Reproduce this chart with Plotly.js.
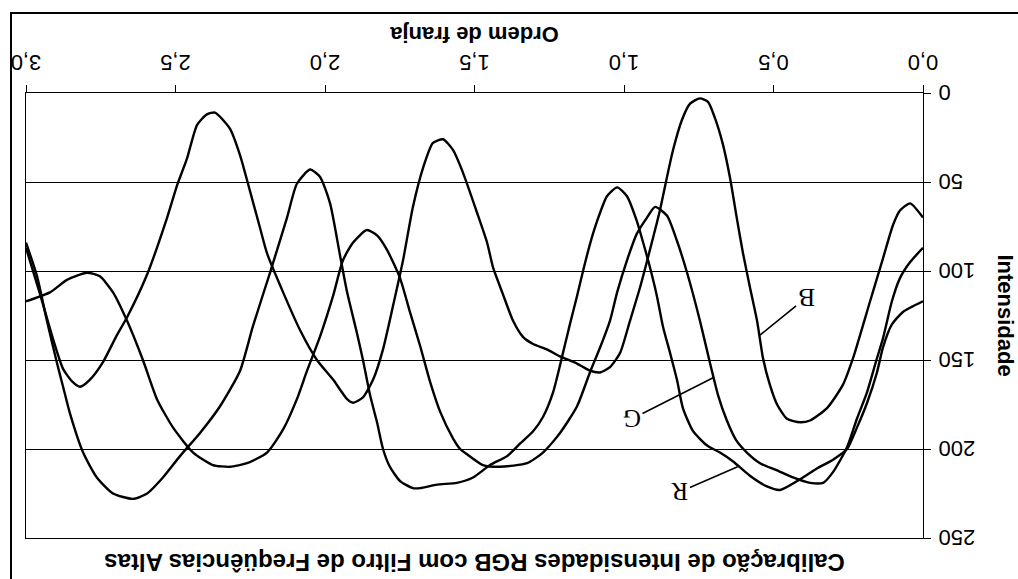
<!DOCTYPE html>
<html>
<head>
<meta charset="utf-8">
<script src="https://cdn.plot.ly/plotly-3.0.1.min.js"></script>
<style>
  html, body { margin: 0; padding: 0; background: #fff; overflow: hidden; }
  /* the printed figure sits upside down on the page */
  #wrap { position: relative; width: 1018px; height: 579px; transform: rotate(180deg); }
  #chart { position: absolute; left: 0; top: 0; width: 1018px; height: 579px; }
  /* outer frame of the chart area: bottom and right edges */
  #frame { position: absolute; left: 0; top: 0; width: 1006px; height: 565px;
           border-right: 2px solid #000; border-bottom: 2px solid #000;
           pointer-events: none; z-index: 5; }
</style>
</head>
<body>
<div id="wrap"><div id="chart"></div><div id="frame"></div></div>
<script>
// Fringe order (x) and intensity (y) for each colour channel
const ordemR = [0, 0.067, 0.104, 0.134, 0.154, 0.187, 0.221, 0.254, 0.301, 0.355, 0.411, 0.478, 0.522, 0.579, 0.635, 0.679, 0.722, 0.769, 0.803, 0.823, 0.846, 0.870, 0.890, 0.913, 0.936, 0.957, 0.990, 1.023, 1.057, 1.090, 1.114, 1.137, 1.157, 1.181, 1.204, 1.237, 1.271, 1.304, 1.348, 1.391, 1.448, 1.505, 1.559, 1.625, 1.682, 1.706, 1.749, 1.783, 1.806, 1.826, 1.849, 1.873, 1.893, 1.926, 1.950, 1.983, 2.017, 2.050, 2.094, 2.127, 2.184, 2.241, 2.284, 2.351, 2.418, 2.485, 2.542, 2.595, 2.642, 2.709, 2.763, 2.809, 2.853, 2.876, 2.896, 2.930, 2.963, 3.0];
const intensR = [117, 123, 130, 143, 157, 174, 188, 200, 206, 211, 217, 223, 221, 215, 207, 202, 198, 190, 177, 161, 146, 131, 114, 98, 84, 72, 58, 53, 58, 72, 85, 100, 114, 130, 146, 168, 182, 190, 197, 204, 209, 216, 219, 220, 222, 222, 218, 210, 200, 185, 170, 150, 135, 112, 91, 62, 47, 43, 51, 70, 101, 131, 156, 176, 191, 204, 216, 225, 228, 225, 216, 202, 180, 165, 152, 128, 103, 84];

const ordemG = [0, 0.043, 0.077, 0.104, 0.134, 0.154, 0.187, 0.221, 0.254, 0.301, 0.334, 0.378, 0.435, 0.488, 0.545, 0.589, 0.625, 0.656, 0.685, 0.712, 0.746, 0.789, 0.823, 0.856, 0.896, 0.923, 0.957, 0.990, 1.023, 1.047, 1.080, 1.114, 1.157, 1.214, 1.271, 1.324, 1.415, 1.472, 1.525, 1.548, 1.572, 1.615, 1.649, 1.682, 1.716, 1.749, 1.793, 1.826, 1.860, 1.906, 1.940, 1.973, 2.017, 2.060, 2.094, 2.140, 2.194, 2.261, 2.318, 2.375, 2.441, 2.508, 2.562, 2.609, 2.662, 2.709, 2.753, 2.796, 2.863, 2.920, 3.0];
const intensG = [87, 95, 104, 117, 138, 149, 168, 183, 199, 213, 219, 219, 216, 212, 208, 202, 195, 184, 170, 152, 128, 101, 83, 69, 64, 70, 79, 94, 112, 128, 143, 157, 176, 191, 202, 208, 210, 209, 203, 200, 194, 179, 162, 142, 123, 104, 88, 80, 77, 84, 94, 114, 137, 156, 172, 189, 202, 208, 210, 209, 202, 188, 172, 150, 128, 112, 103, 101, 105, 112, 117];

const ordemB = [0, 0.043, 0.077, 0.100, 0.134, 0.177, 0.234, 0.268, 0.321, 0.378, 0.411, 0.455, 0.488, 0.512, 0.535, 0.555, 0.579, 0.602, 0.622, 0.645, 0.669, 0.696, 0.719, 0.746, 0.779, 0.806, 0.836, 0.856, 0.880, 0.913, 0.946, 0.980, 1.013, 1.047, 1.080, 1.114, 1.157, 1.214, 1.258, 1.304, 1.338, 1.371, 1.405, 1.438, 1.458, 1.492, 1.538, 1.572, 1.605, 1.639, 1.672, 1.706, 1.739, 1.773, 1.806, 1.839, 1.873, 1.906, 1.926, 1.973, 2.027, 2.084, 2.140, 2.194, 2.217, 2.251, 2.284, 2.318, 2.368, 2.395, 2.428, 2.462, 2.495, 2.528, 2.595, 2.662, 2.696, 2.742, 2.786, 2.819, 2.846, 2.876, 2.910, 2.953, 3.0];
const intensB = [70, 62, 66, 74, 93, 117, 149, 164, 177, 184, 185, 183, 175, 164, 149, 128, 109, 90, 71, 48, 29, 14, 5, 3, 6, 15, 32, 47, 66, 88, 109, 128, 146, 154, 157, 156, 152, 148, 144, 141, 137, 128, 113, 98, 84, 67, 45, 32, 26, 28, 42, 64, 94, 120, 144, 161, 171, 174, 172, 161, 150, 133, 112, 90, 76, 55, 35, 20, 11, 12, 18, 37, 52, 70, 102, 126, 136, 151, 161, 165, 162, 155, 138, 113, 87];

const xTickVals = [0, 0.5, 1.0, 1.5, 2.0, 2.5, 3.0];
const xTickText = ['0,0', '0,5', '1,0', '1,5', '2,0', '2,5', '3,0'];
const yTickVals = [0, 50, 100, 150, 200, 250];

// channel labels: name, text position, leader-line tip on the curve
const labelNames = ['B', 'G', 'R'];
const labelAt = [[0.391, 115], [0.973, 183], [0.813, 224]];
const labelTip = [[0.545, 136], [0.702, 160], [0.620, 210]];

const sans = 'Liberation Sans, Arial, sans-serif';
const serif = 'Liberation Serif, Times New Roman, serif';

function channel(name, xs, ys) {
  return {
    type: 'scatter', mode: 'lines', name: name, x: xs, y: ys,
    line: { color: '#000', width: 2.4, shape: 'spline', smoothing: 0.6 },
    hoverinfo: 'skip'
  };
}

const traces = [
  channel('R', ordemR, intensR),
  channel('G', ordemG, intensG),
  channel('B', ordemB, intensB)
];

const annotations = labelNames.map((n, i) => ({
  x: labelTip[i][0], y: labelTip[i][1], xref: 'x', yref: 'y',
  ax: labelAt[i][0], ay: labelAt[i][1], axref: 'x', ayref: 'y',
  text: n, showarrow: true, arrowhead: 0, arrowwidth: 1.6, arrowcolor: '#000',
  font: { family: serif, size: 25, color: '#000' }
}));

const layout = {
  width: 1018, height: 579,
  margin: { l: 95, r: 26, t: 41, b: 93 },
  paper_bgcolor: 'rgba(0,0,0,0)', plot_bgcolor: '#fff',
  showlegend: false,
  font: { family: sans, color: '#000' },
  title: {
    text: 'Calibração de Intensidades RGB com Filtro de Freqüências Altas',
    font: { family: sans, size: 24, weight: 'bold', color: '#000' },
    x: 0.5, xref: 'paper', xanchor: 'center', y: 0.986, yref: 'container', yanchor: 'top'
  },
  xaxis: {
    range: [0, 3], tickvals: xTickVals, ticktext: xTickText,
    ticks: 'outside', ticklen: 7, tickwidth: 1, tickcolor: '#000',
    ticklabelstandoff: 3,
    showline: true, mirror: true, linecolor: '#000', linewidth: 1.2,
    showgrid: false, zeroline: false,
    tickfont: { family: sans, size: 22, color: '#000' },
    title: { text: 'Ordem de franja', standoff: 9,
             font: { family: sans, size: 22, weight: 'bold', color: '#000' } }
  },
  yaxis: {
    range: [0, 250], tickvals: yTickVals,
    ticks: 'outside', ticklen: 7, tickwidth: 1, tickcolor: '#000',
    ticklabelstandoff: 3,
    showline: true, mirror: true, linecolor: '#000', linewidth: 1.2,
    showgrid: true, gridcolor: '#000', gridwidth: 1, zeroline: false,
    tickfont: { family: sans, size: 22, color: '#000' },
    title: { text: 'Intensidade', standoff: 21,
             font: { family: sans, size: 22, weight: 'bold', color: '#000' } }
  },
  annotations: annotations
};

Plotly.newPlot('chart', traces, layout, { staticPlot: true, displayModeBar: false });
</script>
</body>
</html>
